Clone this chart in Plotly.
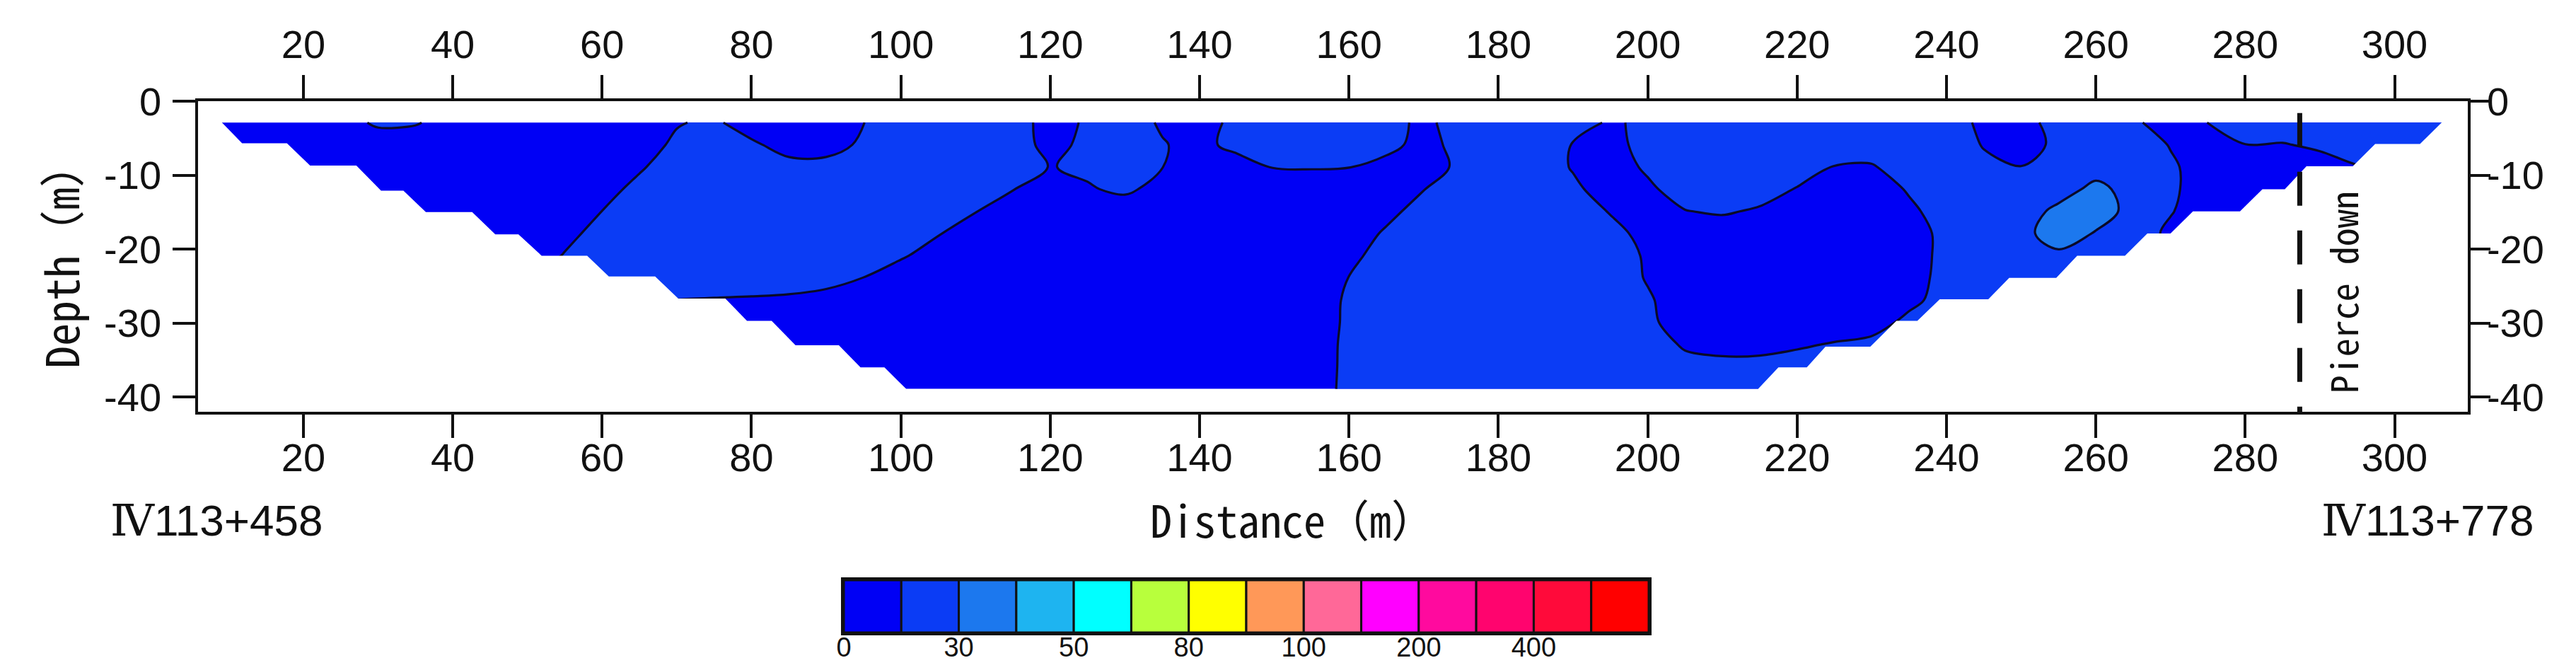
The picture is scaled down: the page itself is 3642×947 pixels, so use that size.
import plotly.graph_objects as go

N = None  # node outside the measured section

# grid nodes of the pseudo-section
distance_m = [5, 10, 15, 20, 25, 30, 35, 40, 45, 50,
              55, 60, 65, 70, 75, 80, 85, 90, 95, 100,
              105, 110, 115, 120, 125, 130, 135, 140, 145, 150,
              155, 160, 165, 170, 175, 180, 185, 190, 195, 200,
              205, 210, 215, 220, 225, 230, 235, 240, 245, 250,
              255, 260, 265, 270, 275, 280, 285, 290, 295, 300,
              305, 310]
depth_m = [-2.9, -5.9, -8.9, -11.9, -14.9, -17.9, -20.9,
           -23.9, -26.9, -29.9, -32.9, -35.9, -38.9]

# apparent resistivity (ohm.m), one list per depth row, 10 nodes per line
rho_03 = [8, 8, 8, 8, 10, 17, 16, 10, 8, 8,
          8, 8, 8, 14.2, 17, 9, 8, 8, 14.8, 22,
          22, 22, 18.8, 11.8, 16, 20, 13.7, 10.7, 17.7, 22,
          22, 22, 18.8, 12.6, 19.6, 22, 22, 22, 13, 18,
          22, 22, 22, 22, 22, 22, 22, 19.8, 12.8, 11.6,
          18.6, 22, 16.8, 9.8, 15.1, 22, 22, 22, 22, 22,
          22, 22]
rho_06 = [N, 8, 8, 8, 8, 8, 8, 8, 8, 8,
          8, 8, 10.1, 17.1, 22, 17.1, 10.1, 10.1, 17.1, 22,
          22, 22, 19.2, 12.2, 17.1, 22, 15.7, 11.6, 18.6, 22,
          22, 22, 18.2, 11.4, 18.4, 22, 21.4, 14.4, 11.6, 18.6,
          22, 22, 22, 22, 22, 22, 22, 22, 14.3, 10.4,
          17.4, 22, 21.4, 14.4, 9.4, 14.8, 14.3, 17, 20, 22,
          22, N]
rho_09 = [N, N, 8, 8, 8, 8, 8, 8, 8, 8,
          8, 8, 13.7, 20.7, 22, 22, 19, 19, 22, 22,
          22, 22, 22, 14.5, 17.2, 22, 15.2, 8.3, 9.4, 15.6,
          15.8, 15.3, 11.5, 10.2, 17.2, 22, 21.2, 14.2, 9.7, 16.7,
          22, 22, 22, 21, 14.5, 13.8, 22, 22, 17.8, 15.2,
          17.8, 22, 22, 16.7, 9.7, 8.7, 8, 10.1, 14.5, 16,
          N, N]
rho_12 = [N, N, N, N, 8, 8, 8, 8, 8, 8,
          8, 11.1, 18.1, 22, 22, 22, 22, 22, 22, 22,
          22, 22, 15.4, 8.5, 13.9, 17.3, 10.8, 8, 8, 8,
          8, 8, 8, 14.7, 21.7, 22, 22, 17.1, 10.1, 13,
          20, 22, 20.4, 14.3, 8.7, 9.1, 16.1, 22, 22, 22,
          22, 35, 23, 16.8, 9.8, 8, 8, 8, N, N,
          N, N]
rho_15 = [N, N, N, N, N, N, 8, 8, 8, 8,
          8.1, 15.1, 22, 22, 22, 22, 22, 22, 22, 22,
          22, 15.4, 8.4, 8, 8, 8, 8, 8, 8, 8,
          8, 8, 12.1, 19.1, 22, 22, 22, 21.3, 14.3, 8,
          14.6, 16.4, 13.4, 8, 8, 8, 12.8, 19.8, 22, 21,
          34.6, 37, 25.3, 15.7, 8.7, 8, N, N, N, N,
          N, N]
rho_18 = [N, N, N, N, N, N, N, 8, 8, 8,
          11.9, 18.9, 22, 22, 22, 22, 22, 22, 22, 22,
          15.7, 8.7, 8, 8, 8, 8, 8, 8, 8, 8,
          8, 9.4, 16.4, 22, 22, 22, 22, 22, 18.5, 11.5,
          8, 8, 8, 8, 8, 8, 10.7, 17.7, 22, 25.2,
          38, 28.9, 21, 12.7, 8, N, N, N, N, N,
          N, N]
rho_21 = [N, N, N, N, N, N, N, N, 8, 8.7,
          15.7, 22, 22, 22, 22, 22, 22, 22, 22, 16.5,
          9.5, 8, 8, 8, 8, 8, 8, 8, 8, 8,
          8, 12.3, 19.3, 22, 22, 22, 22, 22, 20.6, 13.6,
          8, 8, 8, 8, 8, 8, 10.7, 17.7, 22, 22,
          26.7, 22, 22, N, N, N, N, N, N, N,
          N, N]
rho_24 = [N, N, N, N, N, N, N, N, N, N,
          22, 22, 22, 22, 22, 22, 22, 22, 14.8, 8,
          8, 8, 8, 8, 8, 8, 8, 8, 8, 8,
          8, 15.2, 22, 22, 22, 22, 22, 22, 21.4, 14.1,
          8, 8, 8, 8, 8, 8, 11.1, 18.1, 22, 22,
          22, N, N, N, N, N, N, N, N, N,
          N, N]
rho_27 = [N, N, N, N, N, N, N, N, N, N,
          N, N, 16, 14.8, 14.2, 13.6, 12.5, 8, 8, 8,
          8, 8, 8, 8, 8, 8, 8, 8, 8, 8,
          8, 16.9, 22, 22, 22, 22, 22, 22, 22, 16.4,
          8.8, 8, 8, 8, 8, 8, 11.7, 20, 22, 22,
          N, N, N, N, N, N, N, N, N, N,
          N, N]
rho_30 = [N, N, N, N, N, N, N, N, N, N,
          N, N, N, N, 8, 8, 8, 8, 8, 8,
          8, 8, 8, 8, 8, 8, 8, 8, 8, 8,
          9.7, 16.7, 22, 22, 22, 22, 22, 22, 22, 17.1,
          10.1, 8, 8, 8, 8, 9.6, 18.3, 22, N, N,
          N, N, N, N, N, N, N, N, N, N,
          N, N]
rho_33 = [N, N, N, N, N, N, N, N, N, N,
          N, N, N, N, N, 8, 8, 8, 8, 8,
          8, 8, 8, 8, 8, 8, 8, 8, 8, 8,
          10.1, 17.1, 22, 22, 22, 22, 22, 22, 22, 20.6,
          13.6, 11.3, 11.5, 13.4, 15.9, 18.3, 22, N, N, N,
          N, N, N, N, N, N, N, N, N, N,
          N, N]
rho_36 = [N, N, N, N, N, N, N, N, N, N,
          N, N, N, N, N, N, N, 8, 8, 8,
          8, 8, 8, 8, 8, 8, 8, 8, 8, 8,
          10.2, 17.2, 22, 22, 22, 22, 22, 22, 22, 22,
          18.7, 18.3, 18.5, 20.4, 22, N, N, N, N, N,
          N, N, N, N, N, N, N, N, N, N,
          N, N]
rho_39 = [N, N, N, N, N, N, N, N, N, N,
          N, N, N, N, N, N, N, N, 8, 8,
          8, 8, 8, 8, 8, 8, 8, 8, 8, 8,
          10.4, 17.4, 22, 22, 22, 22, 22, 22, 22, 22,
          22, 22, 22, 22, N, N, N, N, N, N,
          N, N, N, N, N, N, N, N, N, N,
          N, N]
resistivity = [rho_03, rho_06, rho_09, rho_12, rho_15, rho_18, rho_21,
               rho_24, rho_27, rho_30, rho_33, rho_36, rho_39]

# stepped outline of the measured section
left_edge_x = [9.1, 11.8, 17.8, 20.9, 27.1, 30.4, 33.4, 36.4, 42.6, 45.7, 48.8, 51.9,
               58.0, 60.9, 67.1, 70.2, 76.5, 79.4, 82.7, 85.9, 91.7, 94.6, 97.8, 100.7]
left_edge_depth = [-2.9, -5.7, -5.7, -8.7, -8.7, -12.1, -12.1, -15.0, -15.0, -18.0, -18.0, -20.9,
                   -20.9, -23.7, -23.7, -26.7, -26.7, -29.7, -29.7, -33.0, -33.0, -36.0, -36.0, -38.9]
right_edge_x = [306.3, 303.4, 297.4, 294.4, 288.2, 285.3, 282.3, 279.3, 273.0, 270.0, 266.9, 263.9,
                257.5, 254.7, 248.4, 245.6, 239.1, 236.1, 233.3, 229.8, 223.8, 221.3, 217.5, 214.8]
right_edge_depth = [-2.9, -5.8, -5.8, -8.8, -8.8, -11.9, -11.9, -14.9, -14.9, -17.9, -17.9, -20.9,
                    -20.9, -23.9, -23.9, -26.8, -26.8, -29.7, -29.7, -33.2, -33.2, -36.0, -36.0, -38.9]

# pierce-down position
pierce_x = 287.3
pierce_top = -1.6

# colour legend (ohm.m)
legend_colors = ["#0000F5", "#0B3CF5", "#1C78EE", "#1EB4F0", "#00FFFF", "#B8FF3C", "#FFFF00",
                 "#FF9858", "#FF6898", "#FF00FF", "#FF0A9E", "#FF046E", "#FF0A3A", "#FF0000"]
legend_labels = ["0", "30", "50", "80", "100", "200", "400"]

distance_ticks = [20, 40, 60, 80, 100, 120, 140, 160, 180, 200, 220, 240, 260, 280, 300]
depth_ticks = [0, -10, -20, -30, -40]

W, H = 3642, 947
X_RANGE = [5.9, 309.8]
Y_RANGE = [-42, 0]
INK = "#111111"
NUM_FONT = "Liberation Sans Narrow, Arial Narrow, Liberation Sans, sans-serif"
MONO_FONT = "Noto Sans Mono CJK SC, DejaVu Sans Mono, monospace"


def px_x(p):
    return p / W


def px_y(p):
    return 1 - p / H


fig = go.Figure()

fig.add_trace(go.Contour(
    x=distance_m, y=depth_m, z=resistivity,
    autocontour=False, connectgaps=True,
    contours=dict(start=15, end=30, size=15, coloring="fill"),
    colorscale=[[0, legend_colors[0]], [0.5, legend_colors[1]], [1, legend_colors[2]]],
    line=dict(color="#0A0A28", width=3.2, smoothing=1),
    showscale=False, hoverinfo="skip"))

# white out everything outside the stepped section edges
pad_top = depth_m[0] + 0.6
pad_bottom = depth_m[-1] - 0.6
fig.add_trace(go.Scatter(
    x=[X_RANGE[0] - 6, left_edge_x[0]] + left_edge_x + [left_edge_x[-1], X_RANGE[0] - 6],
    y=[pad_top, pad_top] + left_edge_depth + [pad_bottom, pad_bottom],
    fill="toself", fillcolor="white", mode="lines", line=dict(width=0, color="white"),
    hoverinfo="skip", showlegend=False))
fig.add_trace(go.Scatter(
    x=[X_RANGE[1] + 6, right_edge_x[0]] + right_edge_x + [right_edge_x[-1], X_RANGE[1] + 6],
    y=[pad_top, pad_top] + right_edge_depth + [pad_bottom, pad_bottom],
    fill="toself", fillcolor="white", mode="lines", line=dict(width=0, color="white"),
    hoverinfo="skip", showlegend=False))

# pierce-down dashed line (drawn on the top/right axes so they are shown)
fig.add_trace(go.Scatter(
    x=[pierce_x, pierce_x], y=[pierce_top, Y_RANGE[0]], mode="lines",
    line=dict(color=INK, width=7, dash="48px,35px"),
    xaxis="x2", yaxis="y2", hoverinfo="skip", showlegend=False))

# colour legend as a row of boxes
fig.add_trace(go.Bar(
    x=list(range(len(legend_colors))), y=[1] * len(legend_colors), width=1,
    marker=dict(color=legend_colors, line=dict(color=INK, width=3)),
    xaxis="x3", yaxis="y3", hoverinfo="skip", showlegend=False))

axis_common = dict(showgrid=False, zeroline=False, showline=True, linecolor=INK, linewidth=3.5,
                   ticks="outside", tickcolor=INK, tickwidth=3.5, automargin=False,
                   tickfont=dict(family=NUM_FONT, size=56, color=INK), fixedrange=True)
x_dom = [px_x(272), px_x(3481)]
y_dom = [px_y(574), px_y(135)]

fig.update_layout(
    width=W, height=H, autosize=False,
    margin=dict(l=0, r=0, t=0, b=0, pad=0),
    paper_bgcolor="white", plot_bgcolor="white", showlegend=False,
    xaxis=dict(domain=x_dom, range=X_RANGE, anchor="y", side="bottom",
               tickvals=distance_ticks, ticklen=33, ticklabelstandoff=-20, **axis_common),
    xaxis2=dict(overlaying="x", range=X_RANGE, anchor="y", side="top",
                tickvals=distance_ticks, ticklen=33, ticklabelstandoff=2, **axis_common),
    yaxis=dict(domain=y_dom, range=Y_RANGE, anchor="x", side="left",
               tickvals=depth_ticks, ticktext=[str(v) for v in depth_ticks],
               ticklen=32, ticklabelstandoff=5, **axis_common),
    yaxis2=dict(overlaying="y", range=Y_RANGE, anchor="x", side="right",
                tickvals=depth_ticks, ticktext=[str(v) for v in depth_ticks],
                ticklen=28, ticklabelstandoff=-16, **axis_common),
    xaxis3=dict(domain=[px_x(1185), px_x(2323)], anchor="y3", range=[-0.5, len(legend_colors) - 0.5],
                tickvals=[i - 0.5 for i in range(0, 2 * len(legend_labels), 2)], ticktext=legend_labels,
                ticks="", showline=True, mirror=True, linecolor=INK, linewidth=4, automargin=False,
                showgrid=False, zeroline=False, ticklabelstandoff=-16, fixedrange=True,
                tickfont=dict(family=NUM_FONT, size=38, color=INK)),
    yaxis3=dict(domain=[px_y(886), px_y(812)], anchor="x3", range=[0, 1], automargin=False,
                showticklabels=False, ticks="", showline=True, mirror=True, linecolor=INK, linewidth=4,
                showgrid=False, zeroline=False, fixedrange=True),
)

station_font = dict(family=NUM_FONT, size=62, color=INK)
roman = '<span style="font-family:DejaVu Serif">Ⅳ</span>'
fig.add_annotation(text="Depth（m）", x=px_x(76), y=px_y(353), xref="paper", yref="paper",
                   textangle=-90, showarrow=False, xanchor="center", yanchor="middle",
                   font=dict(family=MONO_FONT, size=64, color=INK))
fig.add_annotation(text="Distance（m）", x=px_x(1819), y=px_y(725), xref="paper", yref="paper",
                   showarrow=False, xanchor="center", yanchor="middle",
                   font=dict(family=MONO_FONT, size=62, color=INK))
fig.add_annotation(text=roman + "113+458", x=px_x(146), y=px_y(727), xref="paper", yref="paper",
                   showarrow=False, xanchor="left", yanchor="middle", font=station_font)
fig.add_annotation(text=roman + "113+778", x=px_x(3576), y=px_y(727), xref="paper", yref="paper",
                   showarrow=False, xanchor="right", yanchor="middle", font=station_font)
fig.add_annotation(text="Pierce down", x=293.0, y=-25.9, xref="x", yref="y",
                   textangle=-90, showarrow=False, xanchor="center", yanchor="middle",
                   font=dict(family=MONO_FONT, size=52, color=INK))

fig.write_html("out.html")
